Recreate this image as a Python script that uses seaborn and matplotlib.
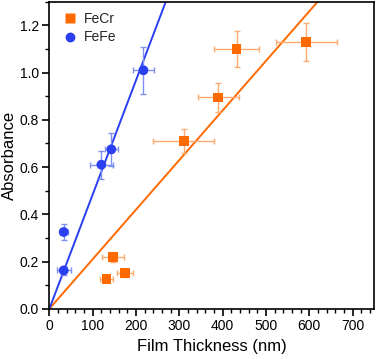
import numpy as np
import pandas as pd
import matplotlib
matplotlib.use('Agg')
import matplotlib.pyplot as plt
from matplotlib.ticker import MultipleLocator
import seaborn as sns

# FeCr films
fecr_thick = [132, 147, 175, 310, 390, 432, 593]
fecr_abs = [0.125, 0.22, 0.15, 0.71, 0.895, 1.10, 1.13]
fecr_xerr = [15, 25, 18, 70, 48, 51, 71]
fecr_yerr = [0.01, 0.02, 0.015, 0.05, 0.062, 0.078, 0.08]

# FeFe films
fefe_thick = [33, 33, 120, 143, 217]
fefe_abs = [0.162, 0.325, 0.61, 0.675, 1.01]
fefe_xerr = [16, 9, 27, 15, 24]
fefe_yerr = [0.02, 0.034, 0.06, 0.07, 0.10]

# linear fits through the origin (slope, absorbance per nm)
fit_slopes = {'FeCr': 0.0021, 'FeFe': 0.00484}

orange = '#ff6a00'
blue = '#2a3ff0'

df = pd.concat([
    pd.DataFrame({'thick': fecr_thick, 'abs': fecr_abs, 'film': 'FeCr'}),
    pd.DataFrame({'thick': fefe_thick, 'abs': fefe_abs, 'film': 'FeFe'}),
])

sns.set_style('ticks')
plt.rcParams['font.family'] = ['Liberation Sans', 'DejaVu Sans']

fig, ax = plt.subplots(figsize=(3.8, 3.59), dpi=100)

# fit lines
xs = np.array([0, 750])
ax.plot(xs, fit_slopes['FeCr'] * xs, color=orange, lw=1.4, zorder=1)
ax.plot(xs, fit_slopes['FeFe'] * xs, color=blue, lw=1.4, zorder=1)

# error bars
ax.errorbar(fecr_thick, fecr_abs, xerr=fecr_xerr, yerr=fecr_yerr, fmt='none',
            ecolor='#ffaa70', elinewidth=1, capsize=2.5, capthick=1, zorder=2)
ax.errorbar(fefe_thick, fefe_abs, xerr=fefe_xerr, yerr=fefe_yerr, fmt='none',
            ecolor='#8090f0', elinewidth=1, capsize=2.5, capthick=1, zorder=2)

sns.scatterplot(data=df, x='thick', y='abs', hue='film', style='film',
                markers={'FeCr': 's', 'FeFe': 'o'},
                palette={'FeCr': orange, 'FeFe': blue},
                s=50, edgecolor='none', ax=ax, zorder=3)

ax.set_xlim(0, 750)
ax.set_ylim(0, 1.3)
ax.xaxis.set_major_locator(MultipleLocator(100))
ax.xaxis.set_minor_locator(MultipleLocator(20))
ax.yaxis.set_major_locator(MultipleLocator(0.2))
ax.yaxis.set_minor_locator(MultipleLocator(0.1))
ax.yaxis.set_major_formatter(matplotlib.ticker.FormatStrFormatter('%.1f'))
ax.tick_params(which='major', length=5, width=1.2, labelsize=10, direction='out',
               color='black', labelcolor='black', pad=2.5)
ax.tick_params(which='minor', length=3, width=1, color='black')
for s in ax.spines.values():
    s.set_linewidth(1.2)
    s.set_color('black')

ax.set_xlabel('Film Thickness (nm)', fontsize=12, color='black')
ax.set_ylabel('Absorbance', fontsize=12, color='black', labelpad=2)

leg = ax.legend(loc='upper left', frameon=False, fontsize=10, title=None,
                handletextpad=0.3, borderaxespad=0.3, labelspacing=0.35,
                handlelength=1.5)

fig.subplots_adjust(left=0.13, right=0.985, top=0.995, bottom=0.14)
fig.savefig('out.png', dpi=100)
